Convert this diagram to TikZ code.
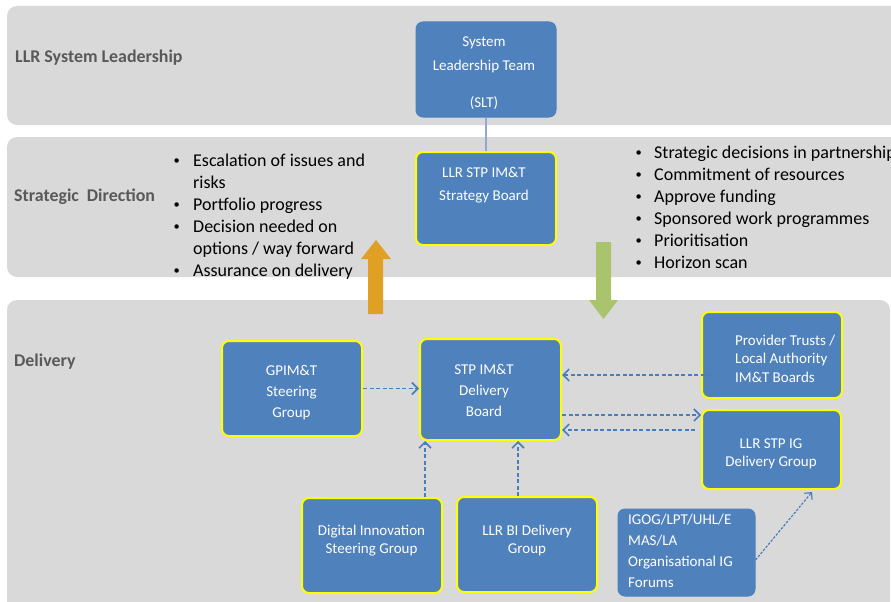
\documentclass[tikz,border=0pt]{standalone}
\usepackage{fontspec}
\setmainfont{Carlito}
\usetikzlibrary{arrows.meta,calc}
\definecolor{band}{HTML}{D9D9D9}
\definecolor{boxfill}{HTML}{4F81BD}
\definecolor{ylw}{HTML}{FFFF00}
\definecolor{dashc}{HTML}{4A7EBB}
\definecolor{lbl}{HTML}{595959}
\definecolor{orng}{HTML}{E0A024}
\definecolor{grn}{HTML}{A9C46C}
\definecolor{linkc}{HTML}{8EA9D8}
\newcommand{\bt}[3]{\fontsize{15}{#1}\selectfont\begin{tabular}[t]{@{}#2@{}}#3\end{tabular}}
\newcommand{\smbul}{\hspace*{-1.5pt}\raisebox{1.8pt}{\fontsize{12.5}{12.5}\selectfont\textbullet}}
\begin{document}
\begin{tikzpicture}[x=1pt,y=-1pt,
  bluebox/.style={rounded corners=7pt, fill=boxfill, draw=boxfill, line width=1pt, inner sep=0pt},
  ybox/.style={bluebox, draw=ylw, line width=2pt},
  boxtxt/.style={text=white, inner sep=0pt, anchor=base},
  lbltxt/.style={text=lbl, inner sep=0pt, anchor=base west, font=\fontsize{17.9}{21}\selectfont\bfseries},
  listtxt/.style={text=black, inner sep=0pt, anchor=base west, font=\fontsize{18}{22}\selectfont},
  dashconn/.style={draw=dashc, line width=1.6pt, dash pattern=on 4pt off 2.5pt, -{Straight Barb[length=6pt,width=12pt]}},
  fineconn/.style={draw=dashc, line width=1.2pt, dash pattern=on 2.5pt off 1.5pt, -{Straight Barb[length=5pt,width=10pt]}}
]
\useasboundingbox (0,0) rectangle (891,602);
\clip (0,0) rectangle (891,602);
\fill[white] (0,0) rectangle (891,602);
% bands
\fill[band, rounded corners=10pt] (7,6) rectangle (910,125);
\fill[band, rounded corners=10pt] (7,137) rectangle (910,277);
\fill[band, rounded corners=10pt] (7,300) rectangle (890,620);
% band labels
\node[lbltxt] (l1) at (15,63) {LLR System Leadership};
\node[lbltxt] (l2) at (14,201) {Strategic~~Direction};
\node[lbltxt] (l3) at (14,366) {Delivery};
% boxes
\node[bluebox, minimum width=140pt, minimum height=95pt] (slt) at (486,69.5) {};
\node[ybox, minimum width=140pt, minimum height=93pt] (sb) at (486,198.5) {};
\node[ybox, minimum width=140pt, minimum height=95pt] (gp) at (292,388.5) {};
\node[ybox, minimum width=141pt, minimum height=101pt] (db) at (490.5,389.5) {};
\node[ybox, minimum width=140pt, minimum height=86pt] (pt) at (772,355) {};
\node[ybox, minimum width=139pt, minimum height=79pt] (ig) at (771.5,449.5) {};
\node[bluebox, minimum width=137pt, minimum height=87pt] (igog) at (686.5,552.5) {};
\node[ybox, minimum width=140pt, minimum height=95pt] (di) at (372,545.5) {};
\node[ybox, minimum width=140pt, minimum height=95pt] (bi) at (527,544.5) {};
% box texts
\node[boxtxt] (slt-t) at (484,47) {\bt{24}{c}{System\\Leadership Team\\[13pt](SLT)}};
\node[boxtxt] (sb-t) at (484,177) {\bt{23}{c}{LLR STP IM\&T\\Strategy Board}};
\node[boxtxt] (gp-t) at (291.5,375) {\bt{21}{c}{GPIM\&T\\Steering\\Group}};
\node[boxtxt] (db-t) at (484,374) {\bt{21}{c}{STP IM\&T\\Delivery\\Board}};
\node[boxtxt, anchor=base west] (pt-t) at (735,345) {\bt{18.5}{l}{Provider Trusts /\\Local Authority\\IM\&T Boards}};
\node[boxtxt] (ig-t) at (771,448) {\bt{18}{c}{LLR STP IG\\Delivery Group}};
\node[boxtxt, anchor=base west] (igog-t) at (628,524) {\bt{21.3}{l}{IGOG/LPT/UHL/E\\MAS/LA\\Organisational IG\\Forums}};
\node[boxtxt] (di-t) at (371.5,535) {\bt{18}{c}{Digital Innovation\\Steering Group}};
\node[boxtxt] (bi-t) at (527,535) {\bt{18}{c}{LLR BI Delivery\\Group}};
% link SLT - strategy board
\draw[linkc, line width=1.2pt] (slt.south) -- (sb.north);
% big arrows
\fill[orng] (368,314) -- (383,314) -- (383,259) -- (391,259) -- (376,240) -- (361,259) -- (368,259) -- cycle;
\fill[grn] (596,242) -- (611,242) -- (611,300) -- (618,300) -- (603.5,319) -- (589,300) -- (596,300) -- cycle;
% bullet lists
\node[listtxt] (leftlist) at (175,166) {\begin{tabular}[t]{@{}p{18pt}@{}l@{}}
\smbul & Escalation of issues and\\
 & risks\\
\smbul & Portfolio progress\\
\smbul & Decision needed on\\
 & options / way forward\\
\smbul & Assurance on delivery
\end{tabular}};
\node[listtxt] (rightlist) at (637,158) {\begin{tabular}[t]{@{}p{17pt}@{}l@{}}
\smbul & Strategic decisions in partnership\\
\smbul & Commitment of resources\\
\smbul & Approve funding\\
\smbul & Sponsored work programmes\\
\smbul & Prioritisation\\
\smbul & Horizon scan
\end{tabular}};
% dashed connectors
\draw[dashconn] (gp.east) -- (gp.east -| db.west);
\draw[dashconn] ($(pt.west)+(10,20)$) coordinate (p1) -- (p1 -| db.east);
\draw[dashconn] ($(db.east)+(0,25.5)$) coordinate (p2) -- (p2 -| ig.west);
\draw[dashconn] ($(ig.west)+(-6,-19.5)$) coordinate (p3) -- (p3 -| db.east);
\draw[dashconn] ($(di.north)+(53,0)$) coordinate (p4) -- (p4 |- db.south);
\draw[dashconn] ($(bi.north)+(-9,0)$) coordinate (p5) -- (p5 |- db.south);
\draw[fineconn] ($(igog.east)+(0,7.5)$) -- ($(ig.south)+(40.5,2)$) coordinate (p6);
\end{tikzpicture}
\end{document}
